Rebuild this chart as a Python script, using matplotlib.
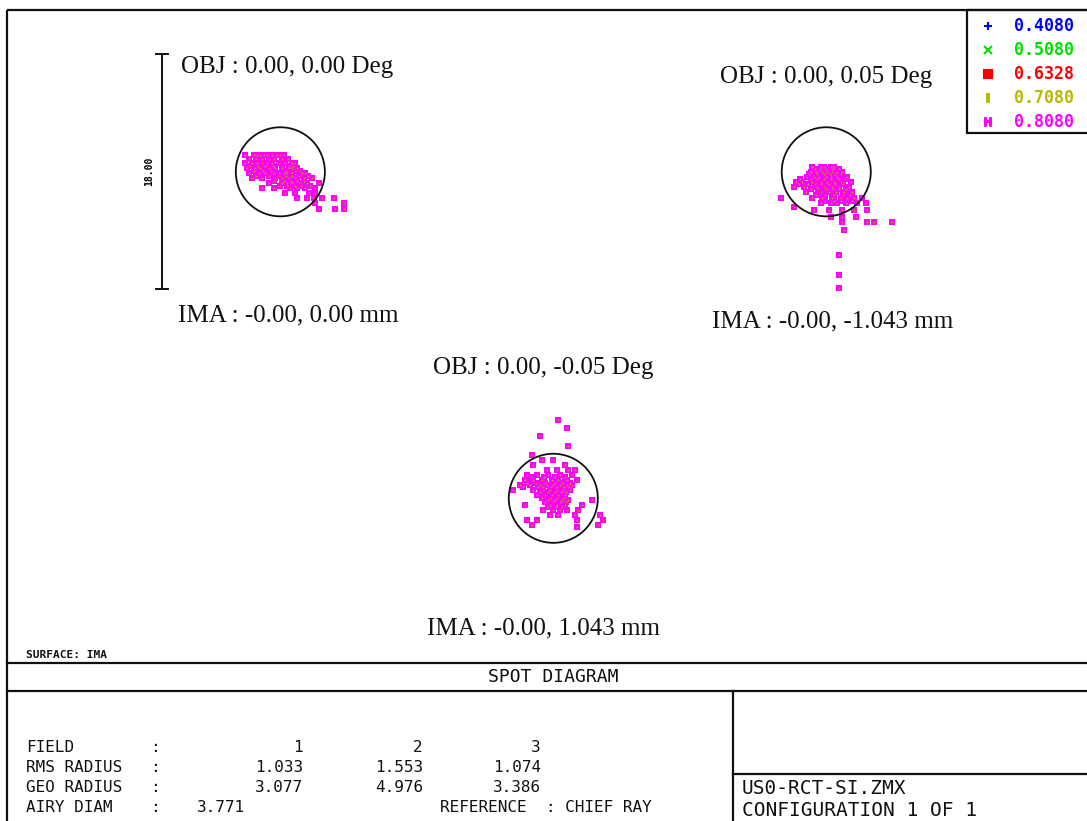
import matplotlib
matplotlib.use("Agg")
import matplotlib.pyplot as plt
import numpy as np
from matplotlib.patches import Circle, Rectangle

# spot positions (micrometres, relative to each field's chief ray)
FIELD1_X = [-2.68, -2.04, -1.79, -1.53, -1.28, -1.02, -0.64, -0.26, 0.0, 0.26,
            -2.68, -2.17, -1.79, -1.40, -1.02, -0.64, -0.13, 0.38, 0.89, 1.15,
            -2.55, -1.91, -1.53, -0.89, -0.38, 0.13, 0.64, 0.89, 1.28,
            -2.42, -1.66, -1.15, -0.51, -0.13, 0.26, 0.51, 0.89, 1.66, 1.91,
            -2.17, -1.40, -0.38, 0.13, 0.64, 1.15, 1.79, 2.42,
            -0.89, 0.13, 0.51, 0.89, 1.53, 2.04, 2.93,
            -1.40, -0.51, 0.77, 1.28, 1.91, 2.68,
            0.38, 1.15, 2.17, 2.68,
            1.28, 2.04, 2.55, 3.19, 4.08,
            4.85, 2.68, 4.85, 4.21, 2.93,
            -2.40, -1.90, -1.40, -0.90, -0.50, 0.10, 0.60,
            -2.30, -1.70, -1.20, -0.60, 0.70, 1.00,
            -2.00, -1.30, -0.70, 0.40, 1.10, 1.50,
            -1.90, -0.90, -0.10, 0.40, 0.90, 1.40, 2.10,
            -0.50, 0.30, 0.80, 1.30, 1.80,
            0.00, 0.50, 1.10, 1.60, 2.30]
FIELD1_Y = [1.30] * 10 + [0.66] * 10 + [0.28] * 9 + [-0.10] * 10 + [-0.48] * 8 \
    + [-0.87] * 7 + [-1.25] * 6 + [-1.63] * 4 + [-2.02] * 5 + [-2.40] * 2 + [-2.86] * 3 \
    + [0.95] * 7 + [0.47] * 6 + [0.09] * 6 + [-0.29] * 7 + [-0.67] * 5 + [-1.06] * 5

FIELD2_X = [-1.07, -0.43, -0.18, 0.33, 0.59,
            -1.20, -0.82, -0.31, 0.08, 0.46, 0.84, 1.22,
            -1.45, -0.94, -0.56, -0.05, 0.33, 0.84, 1.61,
            -2.35, -1.84, -1.07, -0.43, 0.08, 0.59, 1.10, 1.86,
            -2.47, -1.71, -0.69, -0.18, 0.46, 0.97, 1.73,
            -1.58, -0.43, 0.20, 0.71, 1.35, 1.99,
            -3.49, -1.07, -0.31, 0.46, 1.10, 1.61, 2.12, 2.76,
            -0.43, 0.33, 0.84, 1.48, 2.37, 3.01,
            -2.47,
            -0.94, 0.20, 1.22, 2.12, 3.14,
            0.33, 1.22, 2.24,
            3.14, 3.65, 5.00, 1.22,
            1.35, 0.97, 0.97, 0.97,
            -0.90, -0.50, 0.00, 0.50, 1.00,
            -1.30, -0.70, -0.20, 0.30, 0.70, 1.10,
            -2.00, -1.20, -0.70, -0.20, 0.40, 1.00, 1.40,
            -2.10, -1.40, -0.90, -0.40, 0.20, 0.70, 1.30,
            -1.20, -0.60, 0.00, 0.50, 1.00, 1.50,
            -0.80, -0.10, 0.60, 1.30, 1.80,
            -0.10, 0.60, 1.10, 2.00]
FIELD2_Y = [0.38] * 5 + [0.0] * 7 + [-0.38] * 7 + [-0.77] * 8 + [-1.15] * 7 \
    + [-1.53] * 6 + [-2.04] * 8 + [-2.42] * 6 + [-2.68] + [-2.93] * 5 \
    + [-3.44] * 3 + [-3.83] * 4 + [-4.46, -6.4, -7.9, -8.9] \
    + [0.19] * 5 + [-0.19] * 6 + [-0.57] * 7 + [-0.96] * 7 + [-1.34] * 6 \
    + [-1.80] * 5 + [-2.20] * 4

FIELD3_X = [0.38, 1.02, -1.02, 1.15,
            -1.66,
            -0.89, 0.0,
            -1.53, 0.89,
            -0.51, 0.26, 1.15, 1.66,
            -2.04, -1.28, -0.38, 0.51, 1.40,
            -2.17, -1.53, -0.89, -0.13, 0.38, 1.02, 1.79,
            -2.55, -1.79, -1.02, -0.51, 0.0, 0.51, 1.02, 1.40,
            -3.06, -1.53, -0.77, -0.26, 0.26, 0.77, 1.28,
            -1.28, -0.64, -0.13, 0.38, 0.89,
            -0.38, 0.13, 0.64, 1.15, 2.93,
            -2.17, -0.26, 0.26, 0.89, 2.17,
            -0.77, 0.0, 0.51, 1.02, 1.91,
            -0.26, 0.38, 1.66, 3.57,
            -2.04, -1.28, 1.79, 3.83,
            -1.66, 3.44, 1.79,
            -1.70, -0.70, 0.10, 0.90,
            -2.00, -1.30, -0.60, 0.10, 0.70, 1.30,
            -2.30, -1.20, -0.80, -0.20, 0.30, 0.80, 1.20,
            -1.00, -0.40, 0.10, 0.60, 1.00,
            -0.90, -0.20, 0.30, 0.80,
            -0.60, 0.00, 0.50, 1.00,
            -0.40, 0.20, 0.70]
FIELD3_Y = [6.0, 5.36, 4.77, 4.0, 3.32, 2.93, 2.93, 2.55, 2.55] + [2.17] * 4 \
    + [1.79] * 5 + [1.40] * 7 + [1.02] * 8 + [0.64] * 7 + [0.26] * 5 \
    + [-0.13] * 5 + [-0.51] * 5 + [-0.89] * 5 + [-1.28] * 4 + [-1.66] * 4 \
    + [-2.04, -2.04, -2.17] \
    + [1.60] * 4 + [1.20] * 6 + [0.83] * 7 + [0.45] * 5 + [0.06] * 4 \
    + [-0.32] * 4 + [-0.70] * 3

FIELD_CENTERS = [(-20.9, 25.0), (20.9, 25.0), (0.0, 0.0)]
AIRY_RADIUS = 3.41
SCALE_BAR = 18.0

OBJ_LABELS = ["OBJ : 0.00, 0.00 Deg", "OBJ : 0.00, 0.05 Deg", "OBJ : 0.00, -0.05 Deg"]
IMA_LABELS = ["IMA : -0.00, 0.00 mm", "IMA : -0.00, -1.043 mm", "IMA : -0.00, 1.043 mm"]

WAVELENGTHS = ["0.4080", "0.5080", "0.6328", "0.7080", "0.8080"]
WAVE_COLORS = ["#0000ff", "#00e000", "#ff0000", "#b8b800", "#ff00ff"]
WAVE_MARKERS = ["+", "x", "s", "$\\mathrm{I}$", "$\\mathrm{H}$"]

FIELD_NUMS = ["1", "2", "3"]
RMS_RADIUS = ["1.033", "1.553", "1.074"]
GEO_RADIUS = ["3.077", "4.976", "3.386"]
AIRY_DIAM = "3.771"

W, H = 1087, 821
PX_PER_UM = 13.06
CX, CY = 553.3, 498.3

fig = plt.figure(figsize=(W / 100, H / 100), dpi=100, facecolor="white")

# spot axes in micrometres
ax = fig.add_axes([0, 0, 1, 1])
ax.set_xlim(-CX / PX_PER_UM, (W - CX) / PX_PER_UM)
ax.set_ylim((CY - H) / PX_PER_UM, CY / PX_PER_UM)
ax.axis("off")

fields = [(FIELD1_X, FIELD1_Y), (FIELD2_X, FIELD2_Y), (FIELD3_X, FIELD3_Y)]
for (cx, cy), (xs, ys) in zip(FIELD_CENTERS, fields):
    ax.add_patch(Circle((cx, cy), AIRY_RADIUS, fill=False, edgecolor="#111111",
                        linewidth=1.3, zorder=3))
    xs = np.array(xs) + cx
    ys = np.array(ys) + cy
    ax.plot(xs, ys, "s", color="#ff00ff", markersize=4.6, markeredgewidth=0, zorder=2)
    ax.plot(xs, ys, "s", color="#b0a000", markersize=1.2, markeredgewidth=0, zorder=2)

# scale bar beside field 1
bx = FIELD_CENTERS[0][0] - 9.06
by = FIELD_CENTERS[0][1]
ax.plot([bx, bx], [by - SCALE_BAR / 2, by + SCALE_BAR / 2], color="#111111", lw=1.4)
for yy in (by - SCALE_BAR / 2, by + SCALE_BAR / 2):
    ax.plot([bx - 0.45, bx + 0.45], [yy, yy], color="#111111", lw=1.4)
ax.text(bx - 0.95, by, "%.2f" % SCALE_BAR, rotation=90, ha="center", va="center",
        fontsize=7, fontweight="bold", family="DejaVu Sans Mono")

# frame axes in pixels
fr = fig.add_axes([0, 0, 1, 1])
fr.set_xlim(0, W)
fr.set_ylim(H, 0)
fr.axis("off")
fr.patch.set_alpha(0)

lc = "#111111"
fr.add_patch(Rectangle((7, 10), W, H, fill=False, edgecolor=lc, linewidth=1.6))
fr.plot([7, W], [663, 663], color=lc, lw=1.6)
fr.plot([7, W], [691, 691], color=lc, lw=1.6)
fr.plot([733, 733], [691, H], color=lc, lw=1.6)
fr.plot([733, W], [774, 774], color=lc, lw=1.6)
fr.add_patch(Rectangle((967, 10), 130, 123, fill=False, edgecolor=lc, linewidth=1.6))

serif = "Liberation Serif"
obj_pos = [(181, 67), (720, 77), (433, 368)]
ima_pos = [(178, 315), (712, 321), (427, 628)]
for (x, y), s in zip(obj_pos, OBJ_LABELS):
    fr.text(x, y, s, ha="left", va="center", fontsize=18, family=serif, color="#111111")
for (x, y), s in zip(ima_pos, IMA_LABELS):
    fr.text(x, y, s, ha="left", va="center", fontsize=18, family=serif, color="#111111")

# legend
mono = "DejaVu Sans Mono"
for i, (wl, c, m) in enumerate(zip(WAVELENGTHS, WAVE_COLORS, WAVE_MARKERS)):
    y = 26 + i * 24
    fr.plot([988], [y], marker=m, color=c, markersize=6, markeredgewidth=1.5, linestyle="none")
    fr.text(1014, y, wl, ha="left", va="center", fontsize=12, family=mono,
            fontweight="bold", color=c)

# bottom panel text
fr.text(26, 655, "SURFACE: IMA", ha="left", va="center", fontsize=8, family=mono,
        fontweight="bold", color="#111111")
fr.text(553, 677, "SPOT DIAGRAM", ha="center", va="center", fontsize=13, family=mono,
        color="#111111")

rows = [("FIELD", FIELD_NUMS, 747), ("RMS RADIUS", RMS_RADIUS, 767),
        ("GEO RADIUS", GEO_RADIUS, 787)]
cols = [303, 423, 541]
for label, vals, y in rows:
    fr.text(26, y, label, ha="left", va="center", fontsize=11.5, family=mono, color="#111111")
    fr.text(150, y, ":", ha="left", va="center", fontsize=11.5, family=mono, color="#111111")
    for x, v in zip(cols, vals):
        fr.text(x, y, v, ha="right", va="center", fontsize=11.5, family=mono, color="#111111")
fr.text(26, 807, "AIRY DIAM", ha="left", va="center", fontsize=11.5, family=mono, color="#111111")
fr.text(150, 807, ":", ha="left", va="center", fontsize=11.5, family=mono, color="#111111")
fr.text(197, 807, AIRY_DIAM, ha="left", va="center", fontsize=11.5, family=mono, color="#111111")
fr.text(440, 807, "REFERENCE  : CHIEF RAY", ha="left", va="center", fontsize=11.5,
        family=mono, color="#111111")

fr.text(742, 788, "US0-RCT-SI.ZMX", ha="left", va="center", fontsize=14, family=mono,
        color="#111111")
fr.text(742, 811, "CONFIGURATION 1 OF 1", ha="left", va="center", fontsize=14, family=mono,
        color="#111111")

fig.savefig("out.png", dpi=100, facecolor="white")
